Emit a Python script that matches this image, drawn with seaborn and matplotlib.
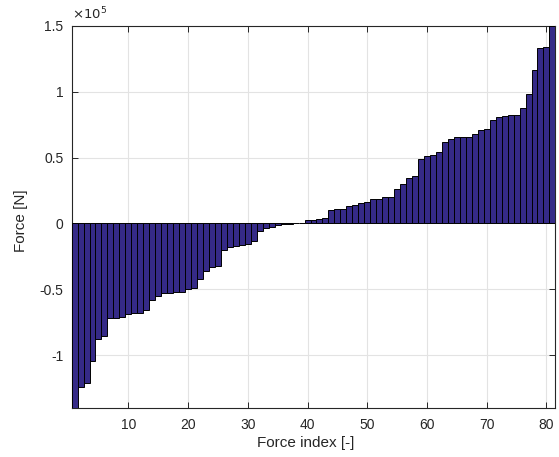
import matplotlib
matplotlib.use("Agg")
import matplotlib.pyplot as plt
import seaborn as sns
import numpy as np
import pandas as pd

force_index = list(range(1, 82))
force_e5 = [
    -1.40, -1.24, -1.21, -1.04, -0.876, -0.851, -0.72, -0.715, -0.712, -0.690,
    -0.682, -0.682, -0.655, -0.579, -0.553, -0.530, -0.524, -0.522, -0.522, -0.500,
    -0.488, -0.418, -0.359, -0.328, -0.323, -0.202, -0.175, -0.168, -0.166, -0.159,
    -0.133, -0.060, -0.038, -0.026, -0.012, -0.008, -0.005, 0.004, 0.007, 0.025,
    0.028, 0.030, 0.038, 0.100, 0.106, 0.106, 0.131, 0.139, 0.157, 0.164,
    0.184, 0.189, 0.197, 0.197, 0.265, 0.298, 0.348, 0.359, 0.490, 0.510,
    0.518, 0.540, 0.616, 0.644, 0.652, 0.652, 0.659, 0.679, 0.707, 0.715,
    0.783, 0.810, 0.816, 0.820, 0.823, 0.874, 0.982, 1.167, 1.328, 1.338,
    1.500,
]
force = [v * 1e5 for v in force_e5]
x_ticks = [10, 20, 30, 40, 50, 60, 70, 80]
y_ticks = [-1e5, -0.5e5, 0, 0.5e5, 1e5, 1.5e5]
y_tick_labels = ["-1", "-0.5", "0", "0.5", "1", "1.5"]

df = pd.DataFrame({"idx": force_index, "force": force})

sns.set_theme(style="white")
plt.rcParams["font.family"] = ["Liberation Sans", "DejaVu Sans"]

fig = plt.figure(figsize=(5.59, 4.57), dpi=100)
ax = fig.add_axes([71.6 / 559, 1 - 408 / 457, (555.4 - 71.6) / 559, (408 - 25.7) / 457])

sns.barplot(data=df, x="idx", y="force", native_scale=True, width=1.0,
            color="#352a87", saturation=1, edgecolor="black", linewidth=0.7,
            ax=ax, zorder=3)

ax.set_xlim(0.5, 81.5)
ax.set_ylim(-1.4e5, 1.5e5)
ax.set_xticks(x_ticks)
ax.set_xticklabels([str(t) for t in x_ticks])
ax.set_yticks(y_ticks)
ax.set_yticklabels(y_tick_labels)
ax.grid(True, color="#e3e3e3", linewidth=0.8, zorder=0)
ax.set_axisbelow(True)
for s in ax.spines.values():
    s.set_visible(True)
    s.set_color("#262626")
    s.set_linewidth(0.8)
ax.tick_params(axis="both", direction="in", length=4, width=0.7, color="#262626",
               labelsize=10, labelcolor="#262626", top=True, right=True,
               bottom=True, left=True)
ax.tick_params(axis="x", pad=7)
ax.tick_params(axis="y", pad=6)
ax.set_xlabel("Force index [-]", fontsize=11, color="#262626")
ax.set_ylabel("Force [N]", fontsize=11, color="#262626")
ax.xaxis.set_label_coords(0.4835, -0.073)
ax.yaxis.set_label_coords(-0.0895, 0.489)
ax.text(0.0, 1.008, r"$\times10^{5}$", transform=ax.transAxes, fontsize=9.5,
        color="#262626", ha="left", va="bottom", family="DejaVu Sans")

fig.savefig("out.png", dpi=100)
